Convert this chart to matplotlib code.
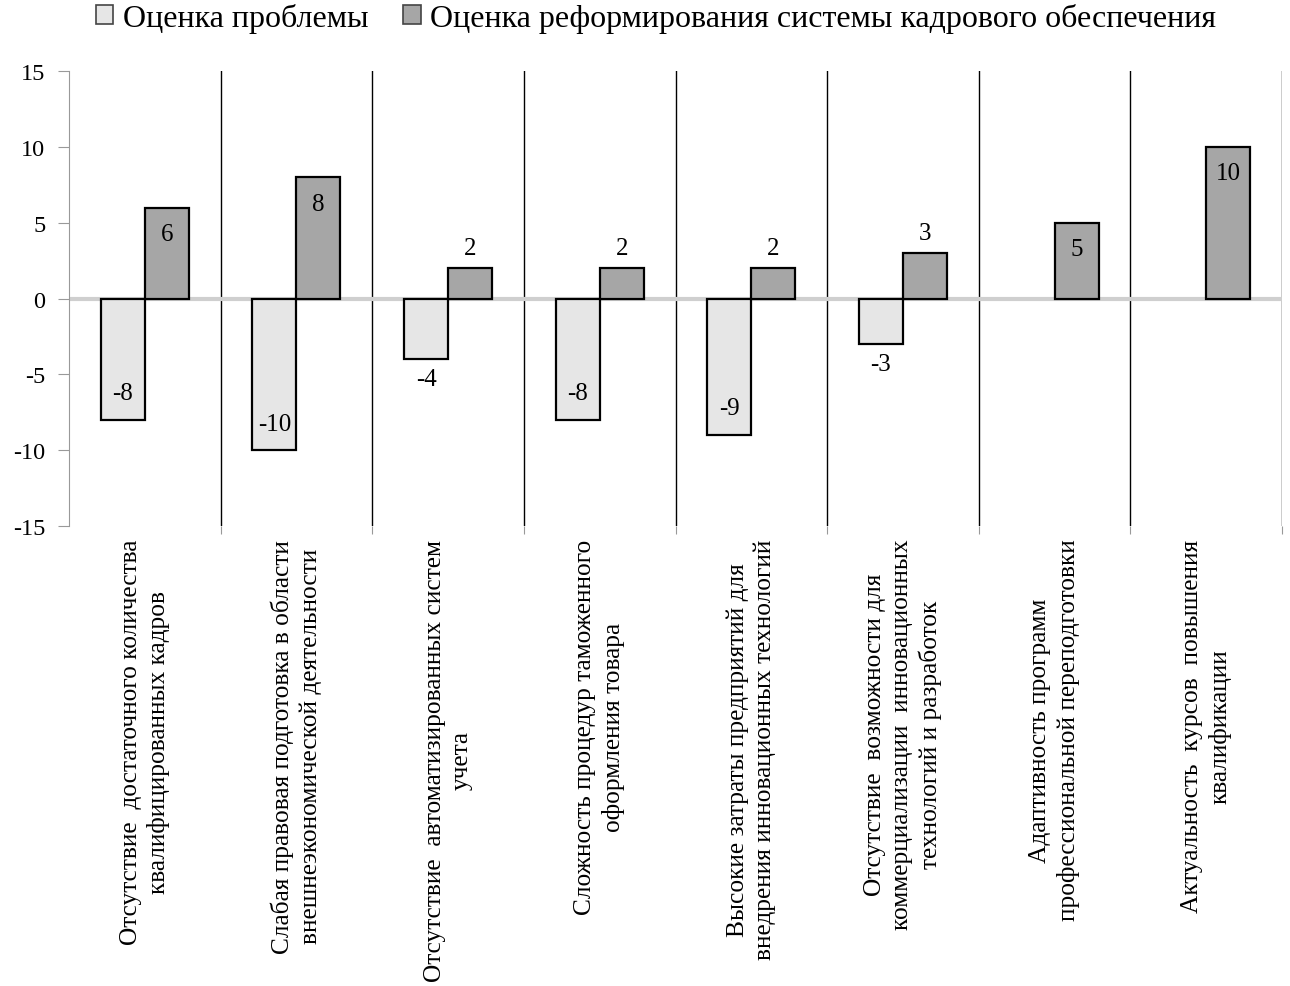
import numpy as np
import matplotlib
matplotlib.use("Agg")
import matplotlib.pyplot as plt
from matplotlib.patches import Patch
from matplotlib.transforms import blended_transform_factory

plt.rcParams['font.family'] = ['Liberation Serif', 'DejaVu Serif']

categories = [
    "Отсутствие  достаточного количества\nквалифицированных кадров",
    "Слабая правовая подготовка в области\nвнешнеэкономической деятельности",
    "Отсутствие  автоматизированных систем\nучета",
    "Сложность процедур таможенного\nоформления товара",
    "Высокие затраты предприятий для\nвнедрения инновационных технологий",
    "Отсутствие  возможности для\nкоммерциализации  инновационных\nтехнологий и разработок",
    "Адаптивность программ\nпрофессиональной переподготовки",
    "Актуальность  курсов  повышения\nквалификации",
]
series_names = ["Оценка проблемы",
                "Оценка реформирования системы кадрового обеспечения"]
problem = [-8, -10, -4, -8, -9, -3, None, None]
reform = [6, 8, 2, 2, 2, 3, 5, 10]
yticks = [-15, -10, -5, 0, 5, 10, 15]

colors = ['#e6e6e6', '#a6a6a6']

fig = plt.figure(figsize=(12.9, 9.87), dpi=100)
ax = fig.add_axes([69/1290, 1-527/987, (1282-69)/1290, (527-72)/987])

n = len(categories)
x = np.arange(n) + 0.5
w = 0.29
vals = [np.array([np.nan if v is None else v for v in s], dtype=float)
        for s in (problem, reform)]
offs = [-w/2, w/2]

for s, (v, o, c) in enumerate(zip(vals, offs, colors)):
    ax.bar(x + o, v, width=w, color=c, edgecolor='black', linewidth=1.6, zorder=3)
    for xi, vi in zip(x + o, v):
        if np.isnan(vi):
            continue
        sg = 1 if vi > 0 else -1
        if abs(vi) >= 5:
            ty = vi - sg * 1.75
        else:
            ty = vi + sg * 1.3
        ax.text(xi, ty, f"{int(vi)}", ha='center', va='center', fontsize=18, zorder=5)

ax.axhline(0, color='#cfcfcf', lw=3, zorder=2)
for k in range(1, n + 1):
    ax.axvline(k, color='black', lw=1, zorder=1)

ax.set_xlim(0, n)
ax.set_ylim(-15, 15)
ax.set_yticks(yticks)
ax.set_yticklabels([str(t) for t in yticks], fontsize=17.5)
ax.set_xticks(range(1, n + 1))
ax.set_xticklabels([])
ax.tick_params(axis='x', length=6, color='#999999')
ax.tick_params(axis='y', length=8, color='#999999', pad=9)
for sp in ['top', 'right', 'bottom']:
    ax.spines[sp].set_visible(False)
ax.spines['left'].set_color('#999999')

tr = blended_transform_factory(ax.transData, ax.transAxes)
for xi, lab in zip(x, categories):
    ax.text(xi, -0.028, lab, transform=tr, rotation=90, ha='center', va='top',
            multialignment='center', fontsize=18.3, linespacing=1.3)

handles = [Patch(facecolor=c, edgecolor='#444444', linewidth=1.2) for c in colors]
fig.legend(handles, series_names, loc='center', bbox_to_anchor=(656/1290, 1-19/987),
           ncol=2, frameon=False, fontsize=23, handlelength=0.55, handleheight=0.55,
           handletextpad=0.3, columnspacing=1.1, borderaxespad=0)

fig.savefig("out.png", dpi=100)
